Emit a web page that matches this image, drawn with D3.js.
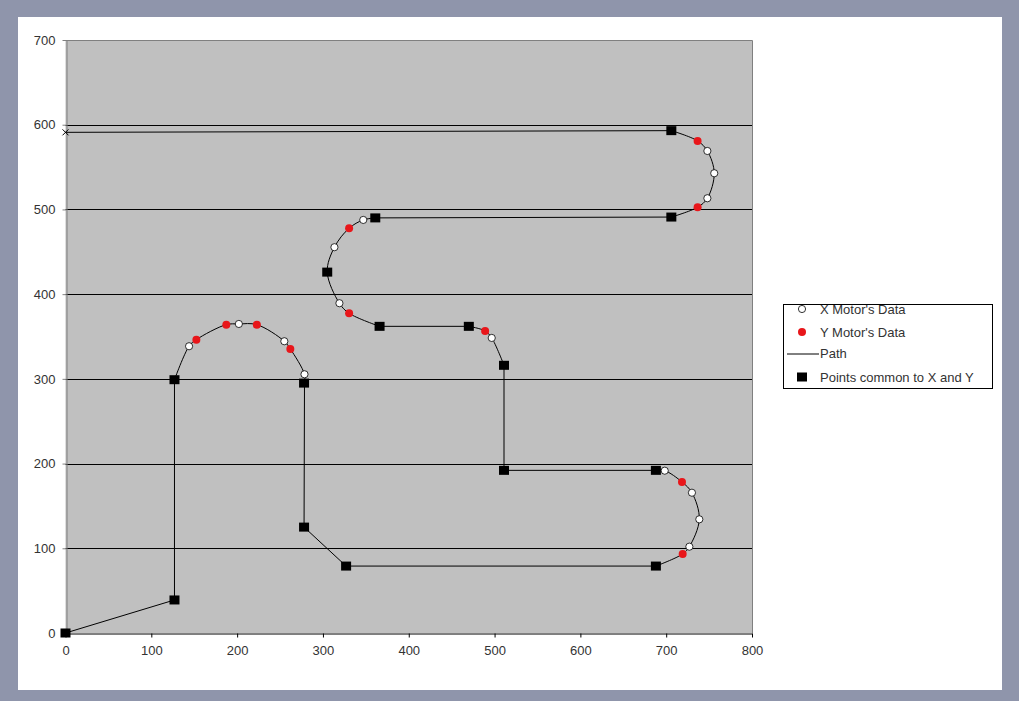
<!DOCTYPE html>
<html><head><meta charset="utf-8">
<script src="https://cdn.jsdelivr.net/npm/d3@7"></script>
<style>body{margin:0;background:#8F95AB;}svg{display:block;}</style>
</head><body>
<svg id="c" width="1019" height="701"></svg>
<script>
// ---- data ----
const xTicks = [0,100,200,300,400,500,600,700,800];
const yTicks = [0,100,200,300,400,500,600,700];
const gridValues = [100,200,300,400,500,600];

// Points common to X and Y (black squares)
const commonX = [0,127,127,278,278,327,688,688,511,511,470,366,305,361,706,706];
const commonY = [0,39,299,295,125,79,79,192,192,316,362,362,426,490,491,593];
// X motor's data (white)
const xMotorX = [144,202,255,278.5, 727,738.6,730,698.3, 496.7, 319.2,313.4,347, 748,756,748];
const xMotorY = [338.5,364.8,344.4,305.4, 101.9,134.2,165.6,191.6, 348.3, 389.3,455.4,487.6, 513.2,542.7,569];
// Y motor's data (red)
const yMotorX = [152.5,187.4,223,262, 719.2,718.4, 489, 330.5,330.5, 736.6,736.6];
const yMotorY = [346.3,364,364,335.3, 93.3,178.3, 356.6, 377.4,477.8, 502.6,580.9];
// Path, in order (type: c=common, x=X motor, y=Y motor, e=end)
const pathX = [0,127,127,144,152.5,187.4,202,223,255,262,278.5,278.5,278,327,688,719.2,727,738.6,730,718.4,698.3,688,511,511,496.7,489,470,366,330.5,319.2,305,313.4,330.5,347,361,706,736.6,748,756,748,736.6,706,0];
const pathY = [0,39,299,338.5,346.3,364,364.8,364,344.4,335.3,305.4,295,125,79,79,93.3,101.9,134.2,165.6,178.3,191.6,192,192,316,348.3,356.6,362,362,377.4,389.3,426,455.4,477.8,487.6,490,491,502.6,513.2,542.7,569,580.9,593,591];
const pathType = ["c","c","c","x","y","y","x","y","x","y","x","c","c","c","c","y","x","x","x","y","x","c","c","c","x","y","c","c","y","x","c","x","y","x","c","c","y","x","x","x","y","c","e"];
const legendLabels = ["X Motor's Data","Y Motor's Data","Path","Points common to X and Y"];

// ---- drawing ----
const svg = d3.select("#c");
svg.append("rect").attr("x",18).attr("y",17).attr("width",984).attr("height",673).attr("fill","#fff");

const x = d3.scaleLinear().domain([0,800]).range([65.5,752]);
const y = d3.scaleLinear().domain([0,700]).range([633,40]);

svg.append("rect").attr("x",x(0)).attr("y",y(700)).attr("width",x(800)-x(0)).attr("height",y(0)-y(700)).attr("fill","#C0C0C0");
// top & right border
svg.append("path").attr("d",`M${x(0)},${y(700)+0.5}H${x(800)+0.5}V${y(0)}`).attr("fill","none").attr("stroke","#808080");

// gridlines
svg.append("g").selectAll("line").data(gridValues).join("line")
  .attr("x1",x(0)).attr("x2",x(800)).attr("y1",d=>Math.round(y(d))+0.5).attr("y2",d=>Math.round(y(d))+0.5)
  .attr("stroke","#000").attr("stroke-width",1);

// axes
const gx = svg.append("g").attr("transform",`translate(0,${Math.round(y(0))+0.5})`)
  .call(d3.axisBottom(x).tickValues(xTicks).tickSize(4).tickPadding(8).tickSizeOuter(0));
gx.select(".domain").attr("stroke","#000");
gx.selectAll(".tick line").attr("stroke","#000");
const gy = svg.append("g").attr("transform",`translate(${Math.round(x(0))+0.5},0)`)
  .call(d3.axisLeft(y).tickValues(yTicks).tickSize(4).tickPadding(7).tickSizeOuter(0));
gy.select(".domain").attr("stroke","#808080");
gy.selectAll(".tick line").attr("stroke","#808080");
svg.selectAll(".tick text").attr("font-family","Liberation Sans, Arial, sans-serif").attr("font-size",13).attr("fill","#333");

// path: straight between commons, smooth through arcs
const pts = pathX.map((d,i)=>({x:pathX[i],y:pathY[i],t:pathType[i]}));
const straight = d3.line().x(d=>x(d.x)).y(d=>y(d.y));
const smooth = d3.line().x(d=>x(d.x)).y(d=>y(d.y)).curve(d3.curveCatmullRom.alpha(0.5));
// find segments between consecutive non-arc anchors
let runs = []; let cur = [pts[0]];
for (let i=1;i<pts.length;i++){
  cur.push(pts[i]);
  const t = pts[i].t;
  if (t==="c"||t==="e"){
    const nextIsArc = i+1<pts.length && (pts[i+1].t==="x"||pts[i+1].t==="y");
    const curIsArc = cur.some(p=>p.t==="x"||p.t==="y");
    if (curIsArc && nextIsArc) continue; // merge arcs sharing a common point
    runs.push(cur); cur=[pts[i]];
  }
}
const pg = svg.append("g");
runs.forEach(r=>{
  const arc = r.some(p=>p.t==="x"||p.t==="y");
  pg.append("path").attr("d",(arc?smooth:straight)(r)).attr("fill","none").attr("stroke","#000").attr("stroke-width",1);
});
// end marker (x)
const endP = pts[pts.length-1];
svg.append("path").attr("d",`M${x(endP.x)-3},${y(endP.y)-3}L${x(endP.x)+3},${y(endP.y)+3}M${x(endP.x)-3},${y(endP.y)+3}L${x(endP.x)+3},${y(endP.y)-3}`)
  .attr("stroke","#000").attr("stroke-width",1);

// markers
svg.append("g").selectAll("circle").data(xMotorX).join("circle")
  .attr("cx",(d,i)=>x(xMotorX[i])).attr("cy",(d,i)=>y(xMotorY[i])).attr("r",3.6)
  .attr("fill","#fff").attr("stroke","#000").attr("stroke-width",0.8);
svg.append("g").selectAll("circle").data(yMotorX).join("circle")
  .attr("cx",(d,i)=>x(yMotorX[i])).attr("cy",(d,i)=>y(yMotorY[i])).attr("r",4)
  .attr("fill","#E8161A");
svg.append("g").selectAll("rect").data(commonX).join("rect")
  .attr("x",(d,i)=>x(commonX[i])-5).attr("y",(d,i)=>y(commonY[i])-4.5).attr("width",10).attr("height",9)
  .attr("fill","#000");

// legend
const lg = svg.append("g");
lg.append("rect").attr("x",783.5).attr("y",304.5).attr("width",209).attr("height",84).attr("fill","#fff").attr("stroke","#000");
const rowY = [309,332,353.5,377];
lg.selectAll("text").data(legendLabels).join("text")
  .attr("x",820).attr("y",(d,i)=>rowY[i]).attr("dy","0.36em")
  .attr("font-family","Liberation Sans, Arial, sans-serif").attr("font-size",13).attr("fill","#333").text(d=>d);
lg.append("circle").attr("cx",802).attr("cy",rowY[0]).attr("r",3.6).attr("fill","#fff").attr("stroke","#000").attr("stroke-width",0.8);
lg.append("circle").attr("cx",802).attr("cy",rowY[1]).attr("r",4).attr("fill","#E8161A");
lg.append("line").attr("x1",787).attr("x2",819).attr("y1",rowY[2]+0.5).attr("y2",rowY[2]+0.5).attr("stroke","#000");
lg.append("rect").attr("x",797).attr("y",rowY[3]-4.5).attr("width",10).attr("height",9).attr("fill","#000");
</script>
</body></html>
